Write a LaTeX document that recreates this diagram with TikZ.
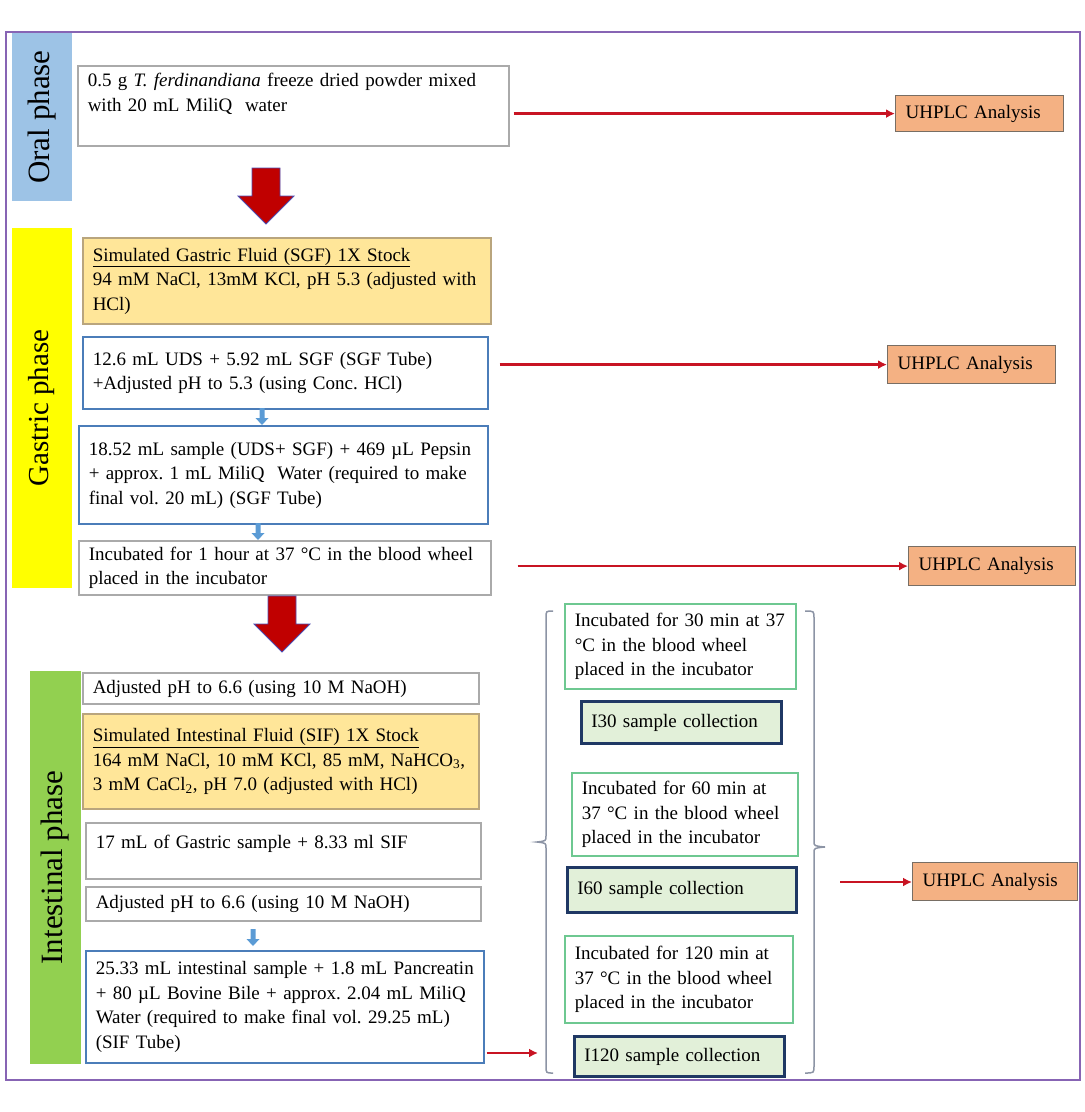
\documentclass[tikz,border=0pt]{standalone}
\usepackage{fontspec}
\setmainfont{Liberation Serif}
\usepackage{tikz}
\usetikzlibrary{arrows.meta}

\definecolor{framepurple}{RGB}{135,100,180}
\definecolor{oralblue}{RGB}{157,195,230}
\definecolor{gastricyellow}{RGB}{255,255,0}
\definecolor{intgreen}{RGB}{146,208,80}
\definecolor{stockfill}{RGB}{255,230,153}
\definecolor{stockline}{RGB}{185,165,125}
\definecolor{uhfill}{RGB}{244,177,131}
\definecolor{uhline}{RGB}{120,110,100}
\definecolor{boxgray}{RGB}{170,170,170}
\definecolor{boxblue}{RGB}{75,125,185}
\definecolor{incgreen}{RGB}{110,200,145}
\definecolor{sampfill}{RGB}{226,240,217}
\definecolor{sampline}{RGB}{31,56,100}
\definecolor{arrowred}{RGB}{200,20,35}
\definecolor{bigred}{RGB}{192,0,0}
\definecolor{smallblue}{RGB}{91,155,213}
\definecolor{bracegray}{RGB}{140,148,165}

% box from (x1,y1) to (x2,y2), text kept on the given lines
\newcommand{\flowbox}[8][]{%
  \pgfmathsetmacro\fbw{#6-#4}%
  \pgfmathsetmacro\fbh{#7-#5}%
  \pgfmathsetmacro\fbt{#6-#4-20}%
  \node[#3, anchor=north west, inner xsep=10pt, inner ysep=0pt,
        text width=\fbt pt, text height=17pt,
        minimum width=\fbw pt, minimum height=\fbh pt, #1] (#2) at (#4,#5)
        {\begin{tabular}[t]{@{}l@{}}#8\end{tabular}};%
}

\begin{document}
\begin{tikzpicture}[x=1pt, y=-1pt,
    txt/.style={font=\fontsize{19}{24.5}\selectfont\frenchspacing, align=left},
    graybox/.style={txt, draw=boxgray, line width=1.5pt},
    bluebox/.style={txt, draw=boxblue, line width=1.5pt},
    stock/.style={txt, draw=stockline, fill=stockfill, line width=1.5pt},
    uhplc/.style={txt, draw=uhline, fill=uhfill, line width=1.2pt},
    incbox/.style={txt, draw=incgreen, line width=1.6pt},
    sampbox/.style={txt, draw=sampline, fill=sampfill, line width=2.5pt},
    phaselabel/.style={inner sep=0pt, rotate=90},
    redarr/.style={draw=arrowred, line width=2.5pt, -{Latex[length=9pt,width=9pt]}},
    bracepath/.style={draw=bracegray, line width=1.5pt},
    bigdown/.pic={\draw[draw=blue!40!gray, fill=bigred, line width=0.8pt]
        (-14,0) -- (14,0) -- (14,28) -- (28,28) -- (0,56) -- (-28,28) -- (-14,28) -- cycle;},
    smalldown/.pic={\fill[smallblue]
        (-2.5,0) -- (2.5,0) -- (2.5,10) -- (6.5,10) -- (0,17) -- (-6.5,10) -- (-2.5,10) -- cycle;}]
    \useasboundingbox (0,0) rectangle (1085,1112);
    \draw[framepurple, line width=2pt] (6,32) rectangle (1080,1080);

    % phase labels
    \node[phaselabel, font=\fontsize{31}{36}\selectfont, fill=oralblue, minimum width=168pt, minimum height=60pt] (oralph) at (42,117) {Oral phase};
    \node[phaselabel, font=\fontsize{29}{34}\selectfont, fill=gastricyellow, minimum width=360pt, minimum height=60pt] (gastph) at (42,408) {Gastric phase};
    \node[phaselabel, font=\fontsize{31}{36}\selectfont, fill=intgreen, minimum width=393pt, minimum height=51pt] (intph) at (55.5,867.5) {Intestinal phase};

    % oral phase
    \flowbox[text depth=55pt]{oral}{graybox}{77}{65}{508}{145}{0.5 g \textit{T. ferdinandiana} freeze dried powder mixed\\ with 20 mL MiliQ\ \ water}
    \flowbox{uhA}{uhplc}{895}{95}{1063}{131}{UHPLC Analysis}
    \pic at (266,168) {bigdown};

    % gastric phase
    \flowbox{sgf}{stock}{82}{237}{490}{323}{\underline{Simulated Gastric Fluid (SGF) 1X Stock}\\ 94 mM NaCl, 13mM KCl, pH 5.3 (adjusted with\\ HCl)}
    \flowbox{g2}{bluebox}{82}{336}{487}{408}{12.6 mL UDS + 5.92 mL SGF (SGF Tube)\\ +Adjusted pH to 5.3 (using Conc. HCl)}
    \flowbox{g3}{bluebox}{78}{425}{487}{523}{18.52 mL sample (UDS+ SGF) + 469 µL Pepsin\\ + approx. 1 mL MiliQ\ \ Water (required to make\\ final vol. 20 mL) (SGF Tube)}
    \flowbox{g4}{graybox}{78}{540}{490}{594}{Incubated for 1 hour at 37 °C in the blood wheel\\ placed in the incubator}
    \flowbox{uhB}{uhplc}{887}{345}{1055}{383}{UHPLC Analysis}
    \flowbox{uhC}{uhplc}{908}{546}{1075}{585}{UHPLC Analysis}
    \pic at (262,408) {smalldown};
    \pic at (258,523) {smalldown};
    \pic at (282,596) {bigdown};

    % intestinal phase
    \flowbox{i1}{graybox}{82}{672}{478}{703}{Adjusted pH to 6.6 (using 10 M NaOH)}
    \flowbox{sif}{stock}{82}{713}{478}{808}{\underline{Simulated Intestinal Fluid (SIF) 1X Stock}\\ 164 mM NaCl, 10 mM KCl, 85 mM, NaHCO\textsubscript{3},\\ 3 mM CaCl\textsubscript{2}, pH 7.0 (adjusted with HCl)}
    \flowbox[text depth=21pt]{i3}{graybox}{85}{822}{480}{878}{17 mL of Gastric sample + 8.33 ml SIF}
    \flowbox{i4}{graybox}{85}{886}{480}{920}{Adjusted pH to 6.6 (using 10 M NaOH)}
    \flowbox{i5}{bluebox}{85}{950}{483}{1062}{25.33 mL intestinal sample + 1.8 mL Pancreatin\\ + 80 µL Bovine Bile + approx. 2.04 mL MiliQ\\ Water (required to make final vol. 29.25 mL)\\ (SIF Tube)}
    \pic at (253,929) {smalldown};

    % incubation steps
    \flowbox{incA}{incbox}{564}{603}{795}{688}{Incubated for 30 min at 37\\ °C in the blood wheel\\ placed in the incubator}
    \flowbox{sA}{sampbox}{580}{700}{780}{742}{I30 sample collection}
    \flowbox{incB}{incbox}{571}{772}{797}{855}{Incubated for 60 min at\\ 37 °C in the blood wheel\\ placed in the incubator}
    \flowbox{sB}{sampbox}{566}{866}{795}{911}{I60 sample collection}
    \flowbox{incC}{incbox}{564}{935}{792}{1022}{Incubated for 120 min at\\ 37 °C in the blood wheel\\ placed in the incubator}
    \flowbox{sC}{sampbox}{573}{1035}{783}{1075}{I120 sample collection}
    \flowbox{uhD}{uhplc}{912}{862}{1077}{900}{UHPLC Analysis}

    % brackets round the incubation steps
    \draw[bracepath] (553,611) .. controls (546,611) .. (546,618) -- (546,836)
        .. controls (546,841) .. (537,842) .. controls (546,843) .. (546,848)
        -- (546,1066) .. controls (546,1073) .. (553,1073);
    \draw[bracepath] (805,611) .. controls (814,611) .. (814,618) -- (814,841)
        .. controls (814,846) .. (825,847) .. controls (814,848) .. (814,853)
        -- (814,1066) .. controls (814,1073) .. (805,1073);
    \coordinate (brL) at (538,1053);
    \coordinate (brR) at (840,882);

    \draw[redarr, shorten <=4pt] (oral.east |- uhA.west) -- (uhA.west);
    \draw[redarr, shorten <=11pt] (g2.east |- uhB.west) -- (uhB.west);
    \draw[redarr, shorten <=26pt] (g4.east |- uhC.west) -- (uhC.west);
    \draw[redarr, shorten <=2pt] (i5.east |- brL) -- (brL);
    \draw[redarr] (brR) -- (brR -| uhD.west);
\end{tikzpicture}
\end{document}
